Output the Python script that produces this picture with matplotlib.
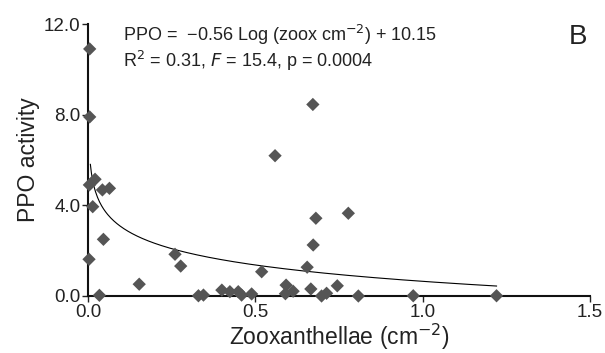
import numpy as np
import matplotlib
matplotlib.use("Agg")
import matplotlib.pyplot as plt

plt.rcParams['font.family'] = ['Liberation Sans', 'DejaVu Sans']

# zooxanthellae density (x) vs PPO activity (y)
zoox = [0.005, 0.005, 0.004, 0.021, 0.043, 0.064, 0.014, 0.046, 0.003, 0.153,
        0.034, 0.260, 0.277, 0.519, 0.330, 0.345, 0.400, 0.424, 0.449, 0.459,
        0.489, 0.592, 0.590, 0.613, 0.681, 0.778, 0.673, 0.655, 0.666, 0.698,
        0.713, 0.745, 0.808, 0.972, 1.221, 0.672, 0.559]
ppo = [10.9, 7.9, 4.9, 5.15, 4.68, 4.75, 3.94, 2.5, 1.62, 0.52,
       0.03, 1.84, 1.32, 1.07, 0.01, 0.04, 0.26, 0.19, 0.19, 0.04,
       0.09, 0.48, 0.10, 0.21, 3.43, 3.65, 2.25, 1.27, 0.31, 0.0,
       0.12, 0.45, 0.0, 0.01, 0.01, 8.45, 6.19]

# log fit as drawn on the chart (in plotted units)
fit_a = 0.647
fit_b = 1.04
fit_xmin, fit_xmax = 0.007, 1.221

fig = plt.figure(figsize=(6.05, 3.53), dpi=100)
ax = fig.add_axes([0.1455, 0.1615, 0.8295, 0.7705])

xf = np.linspace(fit_xmin, fit_xmax, 400)
ax.plot(xf, fit_a - fit_b * np.log(xf), color='black', lw=0.8, zorder=2)
ax.scatter(zoox, ppo, marker='D', s=46, color='#555555', edgecolors='none',
           zorder=4, clip_on=False)

ax.set_xlim(0, 1.5)
ax.set_ylim(0, 12)
ax.set_xticks([0, 0.5, 1.0, 1.5])
ax.set_yticks([0, 4, 8, 12])
ax.set_xticklabels(['0.0', '0.5', '1.0', '1.5'])
ax.set_yticklabels(['0.0', '4.0', '8.0', '12.0'])
for s in ['top', 'right']:
    ax.spines[s].set_visible(False)
for s in ['left', 'bottom']:
    ax.spines[s].set_linewidth(1.5)
    ax.spines[s].set_color('#111111')
ax.tick_params(direction='out', length=4, width=1, labelsize=13.5,
               colors='#222222', pad=1.5)

ax.set_xlabel('Zooxanthellae (cm$^{-2}$)', fontsize=16.5, color='#222222', labelpad=1)
ax.set_ylabel('PPO activity', fontsize=16.5, color='#222222', labelpad=3)

fig.text(123 / 605, 1 - 35 / 353, 'PPO =  \u22120.56 Log (zoox cm$^{\u22122}$) + 10.15',
         fontsize=13, va='center', ha='left', color='#222222')
fig.text(123 / 605, 1 - 61 / 353, 'R$^2$ = 0.31, $F$ = 15.4, p = 0.0004',
         fontsize=13, va='center', ha='left', color='#222222')
fig.text(578 / 605, 1 - 37 / 353, 'B', fontsize=20, va='center', ha='center',
         color='#222222')

fig.savefig('out.png', dpi=100)
